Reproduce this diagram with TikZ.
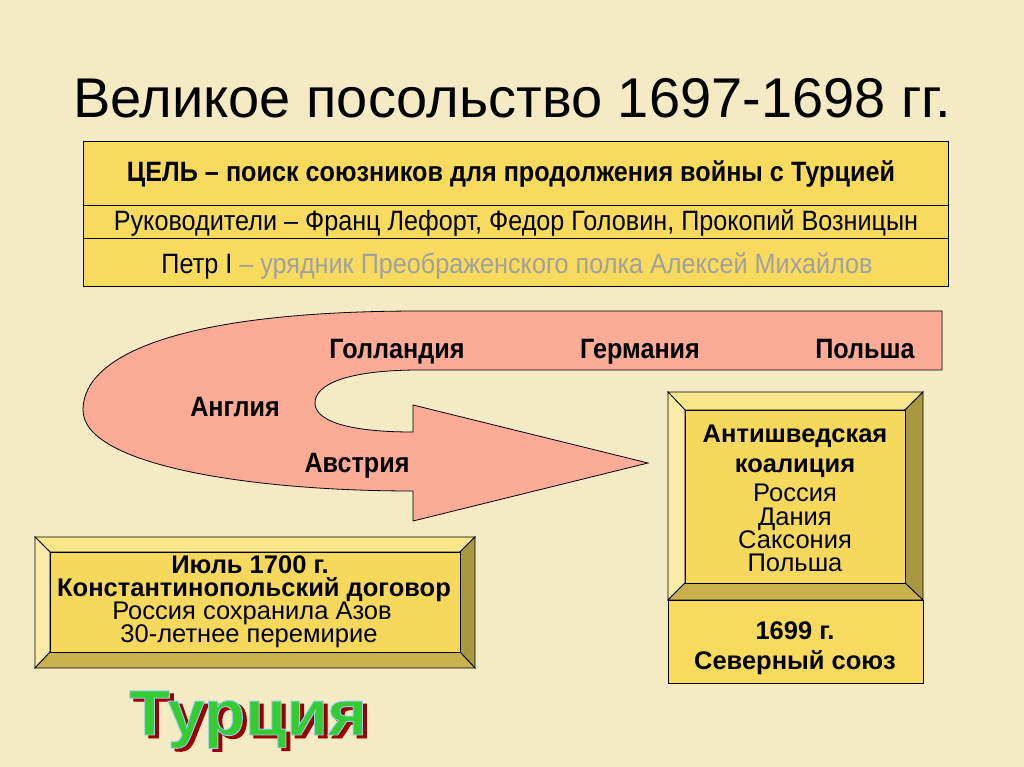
\documentclass[tikz,border=0pt]{standalone}
\usepackage{fontspec}
\setmainfont{Liberation Sans}
\newfontfamily\narrowf[FakeStretch=0.9]{Liberation Sans}
\newfontfamily\blackf[FakeStretch=1.05,FakeBold=1.5]{Liberation Sans Bold}
\definecolor{bgc}{HTML}{F4EAC4}
\definecolor{yel}{HTML}{F8DB5E}
\definecolor{pinkf}{HTML}{FBAB96}
\definecolor{bvtop}{HTML}{F9E58A}
\definecolor{bvleft}{HTML}{FBEBA8}
\definecolor{bvright}{HTML}{A89844}
\definecolor{bvbot}{HTML}{C9B24E}
\definecolor{face}{HTML}{F6D95C}
\definecolor{greytx}{HTML}{A0A0A0}
\definecolor{tgreen}{HTML}{33CC33}
\definecolor{tred}{HTML}{990000}
\newcommand{\bevbox}[8]{%
  \filldraw[bvtop,draw=black,line width=0.8pt] (#1,#2) -- (#3,#2) -- (#7,#6) -- (#5,#6) -- cycle;
  \filldraw[bvleft,draw=black,line width=0.8pt] (#1,#2) -- (#5,#6) -- (#5,#8) -- (#1,#4) -- cycle;
  \filldraw[bvright,draw=black,line width=0.8pt] (#3,#2) -- (#3,#4) -- (#7,#8) -- (#7,#6) -- cycle;
  \filldraw[bvbot,draw=black,line width=0.8pt] (#1,#4) -- (#3,#4) -- (#7,#8) -- (#5,#8) -- cycle;
  \filldraw[face,draw=black,line width=0.8pt] (#5,#6) rectangle (#7,#8);
}
\tikzset{
  lbl/.style={inner sep=0pt, anchor=base},
  rowb/.style={lbl, font=\narrowf\bfseries\fontsize{28}{30}\selectfont},
  rowr/.style={lbl, font=\narrowf\fontsize{28}{30}\selectfont},
  arrlbl/.style={lbl, font=\narrowf\bfseries\fontsize{28}{30}\selectfont},
  bxb/.style={lbl, font=\bfseries\fontsize{25.5}{27}\selectfont},
  bxr/.style={lbl, font=\fontsize{25.5}{27}\selectfont},
}
\begin{document}
\begin{tikzpicture}[x=1pt,y=-1pt]
\useasboundingbox (0,0) rectangle (1024,767);
\fill[bgc] (0,0) rectangle (1024,767);
% title
\node[lbl, font=\fontsize{56}{60}\selectfont] (title) at (512,118) {Великое посольство 1697-1698 гг.};
% top box
\filldraw[yel, draw=black, line width=0.8pt] (83,141) rectangle (948,286);
\draw[line width=0.8pt] (83,205) -- (948,205);
\draw[line width=0.8pt] (83,238) -- (948,238);
\node[rowb] (goal) at (511,182) {ЦЕЛЬ – поиск союзников для продолжения войны с Турцией};
\node[rowr] (lead) at (516,231) {Руководители – Франц Лефорт, Федор Головин, Прокопий Возницын};
\node[rowr] (peter) at (517,273) {Петр I {\color{greytx}– урядник Преображенского полка Алексей Михайлов}};
% arrow
\filldraw[pinkf, draw=black, line width=0.8pt] (942,311) -- (420,311)
  .. controls (180,311) and (83,355) .. (83,410)
  .. controls (83,465) and (250,491) .. (413,491)
  -- (413,521) -- (648,463) -- (413,405) -- (413,432)
  .. controls (345,432) and (315,420) .. (315,403)
  .. controls (315,385) and (345,370) .. (420,370)
  -- (942,370) -- cycle;
\node[arrlbl] (hol) at (397,358) {Голландия};
\node[arrlbl] (ger) at (640,358) {Германия};
\node[arrlbl] (pol) at (865,358) {Польша};
\node[arrlbl] (eng) at (235,416) {Англия};
\node[arrlbl] (aus) at (357,472) {Австрия};
% right box
\bevbox{668}{392}{923}{600}{685}{410}{905}{583}
\filldraw[yel, draw=black, line width=0.8pt] (668,600) rectangle (923,683);
\node[bxb] (anti1) at (795,442) {Антишведская};
\node[bxb] (anti2) at (795,472) {коалиция};
\node[bxr] (m1) at (795,501) {Россия};
\node[bxr] (m2) at (795,525) {Дания};
\node[bxr] (m3) at (795,548) {Саксония};
\node[bxr] (m4) at (795,571) {Польша};
\node[bxb] (north1) at (795,639) {1699 г.};
\node[bxb] (north2) at (795,669) {Северный союз};
% left box
\bevbox{35}{537}{475}{668}{50}{552}{460}{652}
\node[bxb] (july) at (250,573) {Июль 1700 г.};
\node[bxb] (const) at (254,596) {Константинопольский договор};
\node[bxr] (azov) at (252,619) {Россия сохранила Азов};
\node[bxr] (truce) at (249,642) {30-летнее перемирие};
% Turkey
\node[lbl, font=\blackf\fontsize{64}{64}\selectfont, text=tred] (turkshadow) at (252,738)
  {\special{pdf:literal direct 2 Tr 3 w 0.6 0 0 RG}Турция\special{pdf:literal direct 0 Tr 1 w}};
\node[lbl, font=\blackf\fontsize{64}{64}\selectfont, text=tgreen] (turk) at (248,735)
  {\special{pdf:literal direct 2 Tr 3.5 w 0.6 0.8 0.93 RG}Турция\special{pdf:literal direct 0 Tr 1 w}};
\end{tikzpicture}
\end{document}
